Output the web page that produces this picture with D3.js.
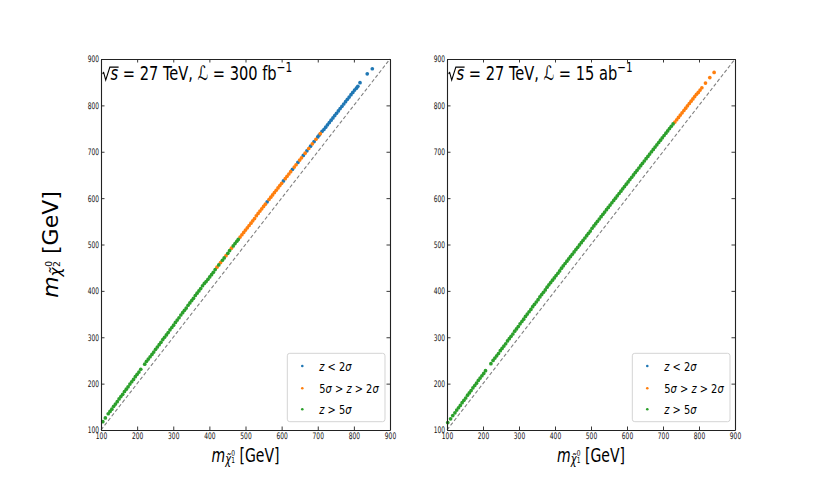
<!DOCTYPE html>
<html>
<head>
<meta charset="utf-8">
<script src="https://cdn.jsdelivr.net/npm/d3@7"></script>
<style>
  body { margin: 0; background: #fff; }
  svg { display: block; font-family: "DejaVu Sans", sans-serif; }
</style>
</head>
<body>
<svg id="chart" width="817" height="491"></svg>
<script>
// [m(chi1), m(chi2)] points, one array per significance class

// 27 TeV, 300 fb^-1
var leftBlue = [[560,592],[605,637],[630,662],[645,677],[660,692],[670,702],[680,712],[690,722],[700,732],[704,736],
  [712,744],[717,748],[722,753],[727,758],[732,763],[737,768],[742,773],[747,778],[752,783],[757,788],[762,793],
  [767,798],[772,803],[777,808],[782,813],[787,818],[792,823],[797,828],[802,833],[807,837],[811,841],
  [817,849],[837,868],[851,879]];
var leftOrange = [[421,451],[431,461],[446,476],[461,492],[485,516],[490,521],[495,526],[500,531],[505,536],[510,541],
  [515,546],[520,551],[525,556],[530,562],[535,567],[540,572],[545,577],[550,582],[555,587],[565,597],[570,602],
  [575,607],[580,612],[585,617],[590,622],[595,627],[600,632],[610,642],[615,647],[620,652],[625,657],[635,667],
  [640,672],[650,682],[655,687],[665,697],[675,707],[685,717],[695,727],[707,739]];
var leftGreen = [[105,118],[112,126],[120,135],[125,140],[130,145],[135,151],[140,156],[145,161],[150,167],[155,172],
  [160,177],[165,183],[170,188],[175,193],[180,199],[185,204],[190,209],[195,215],[200,220],[205,225],[210,231],
  [221,242],[226,248],[231,253],[236,258],[241,263],[246,268],[251,274],[256,279],[261,284],[266,289],[271,295],
  [276,300],[281,305],[286,310],[291,316],[296,321],[301,326],[306,332],[311,337],[316,342],[321,348],[326,353],
  [331,358],[336,363],[341,369],[346,374],[351,379],[356,384],[361,390],[366,395],[371,400],[376,405],[381,411],
  [386,416],[391,420],[396,425],[401,430],[406,435],[411,440],[416,446],[426,456],[436,466],[441,471],[451,481],
  [456,487],[466,497],[471,502],[476,507],[480,511]];

// 27 TeV, 15 ab^-1
var rightBlue = [];
var rightOrange = [[733,764],[738,769],[743,774],[748,779],[753,784],[758,789],[763,794],[768,799],[773,804],
  [778,809],[783,814],[788,819],[793,824],[798,828],[803,833],[808,838],[818,848],[830,860],[842,871]];
var rightGreen = [[102,116],[110,124],[116,131],[122,137],[127,143],[132,148],[137,153],[142,159],[147,164],
  [152,169],[157,175],[162,180],[167,185],[172,191],[177,196],[182,201],[187,207],[192,212],[197,217],[202,222],
  [207,228],[222,243],[228,250],[233,255],[238,260],[243,265],[248,271],[253,276],[258,281],[263,286],[268,292],
  [273,297],[278,302],[283,307],[288,313],[293,318],[298,323],[303,329],[308,334],[313,339],[318,345],[323,350],
  [328,355],[333,360],[338,366],[343,371],[348,376],[353,381],[358,387],[363,392],[368,397],[373,402],[378,408],
  [383,413],[388,418],[393,423],[398,428],[403,433],[408,438],[413,443],[418,449],[423,454],[428,459],[433,464],
  [438,469],[443,474],[448,479],[453,484],[458,489],[463,494],[468,499],[473,504],[478,509],[483,514],[488,519],
  [493,524],[498,529],[503,535],[508,540],[513,545],[518,550],[523,555],[528,560],[533,565],[538,570],[543,575],
  [548,580],[553,585],[558,590],[563,595],[568,600],[573,605],[578,610],[583,615],[588,620],[593,625],[598,630],
  [603,635],[608,640],[613,645],[618,650],[623,655],[628,660],[633,665],[638,670],[643,675],[648,680],[653,685],
  [658,690],[663,695],[668,700],[673,705],[678,710],[683,715],[688,720],[693,725],[698,730],[703,735],[708,740],
  [713,745],[718,750],[723,755],[728,760]];

var tickValues = [100, 200, 300, 400, 500, 600, 700, 800, 900];
var massDomain = [100, 900];
var seriesColors = ['#1f77b4', '#ff7f0e', '#2ca02c'];
// legend entries as [text, italic?] pieces
var legendLabels = [
  [['z', 1], [' < 2', 0], ['σ', 1]],
  [['5', 0], ['σ', 1], [' > ', 0], ['z', 1], [' > 2', 0], ['σ', 1]],
  [['z', 1], [' > 5', 0], ['σ', 1]]
];
var lumiValues = ['300', '15'];
var lumiUnits = ['fb', 'ab'];

var svg = d3.select('#chart');
var plotTop = 59, plotBottom = 430;
var panels = [
  { x0: 101, x1: 390, series: [leftBlue, leftOrange, leftGreen], ylabel: true },
  { x0: 447, x1: 735, series: [rightBlue, rightOrange, rightGreen], ylabel: false }
];

function massLabel(sel, idx, f) {
  sel.append('tspan').attr('font-style', 'italic').text('m');
  sel.append('tspan').attr('font-style', 'italic').attr('font-size', 0.7 * f).attr('dy', 0.12 * f).text('χ̃');
  sel.append('tspan').attr('font-size', 0.42 * f).attr('dx', 0.02 * f).attr('dy', -0.4 * f).text('0');
  sel.append('tspan').attr('font-size', 0.42 * f).attr('dx', -0.27 * f).attr('dy', 0.38 * f).text(idx);
  sel.append('tspan').attr('dy', -0.1 * f).text(' [GeV]');
}

panels.forEach(function(p, pi) {
  var x = d3.scaleLinear().domain(massDomain).range([p.x0, p.x1]);
  var y = d3.scaleLinear().domain(massDomain).range([plotBottom, plotTop]);
  var g = svg.append('g');

  // diagonal m2 = m1
  g.append('line')
    .attr('x1', x(massDomain[0])).attr('y1', y(massDomain[0]))
    .attr('x2', x(massDomain[1])).attr('y2', y(massDomain[1]))
    .attr('stroke', '#808080')
    .attr('stroke-width', 1.1)
    .attr('stroke-dasharray', '3.6,2.2');

  p.series.forEach(function(pts, si) {
    g.append('g').selectAll('circle')
      .data(pts)
      .join('circle')
      .attr('cx', function(d) { return x(d[0]); })
      .attr('cy', function(d) { return y(d[1]); })
      .attr('r', 1.85)
      .attr('fill', seriesColors[si]);
  });

  // axes: ticks pointing inward on all four sides
  var axes = [
    [d3.axisBottom(x), 'translate(0,' + plotBottom + ')', true],
    [d3.axisLeft(y), 'translate(' + p.x0 + ',0)', true],
    [d3.axisTop(x), 'translate(0,' + plotTop + ')', false],
    [d3.axisRight(y), 'translate(' + p.x1 + ',0)', false]
  ];
  axes.forEach(function(a) {
    var ax = a[0].tickValues(tickValues).tickSizeInner(-3.5).tickSizeOuter(0).tickPadding(3);
    if (!a[2]) ax.tickFormat('');
    var ag = g.append('g').attr('transform', a[1]).call(ax);
    ag.select('.domain').attr('stroke', '#222').attr('stroke-width', 1.1);
    ag.selectAll('.tick line').attr('stroke', '#222').attr('stroke-width', 0.9);
    ag.selectAll('.tick text')
      .attr('fill', '#111')
      .attr('font-size', 9)
      .attr('font-family', '"DejaVu Sans", sans-serif')
      .attr('transform', 'scale(0.66,1)');
  });

  // title inside the axes
  var f = 19.5;
  var tg = g.append('g').attr('transform', 'translate(' + (p.x0 + 1.5) + ',80) scale(0.75,1)');
  var tt = tg.append('text').attr('x', 0.55 * f).attr('font-size', f).attr('fill', '#000');
  tt.append('tspan').attr('font-style', 'italic').text('s');
  tt.append('tspan').text(' = 27 TeV, ');
  tt.append('tspan').attr('font-style', 'italic').text('ℒ');
  tt.append('tspan').text(' = ' + lumiValues[pi] + ' ' + lumiUnits[pi]);
  tt.append('tspan').attr('font-size', 0.72 * f).attr('dy', -0.42 * f).text('−1');
  var sAdv = tt.node().getSubStringLength(0, 1);
  tg.append('path')
    .attr('d', 'M0,' + (-0.33 * f) + 'L' + (0.08 * f) + ',' + (-0.38 * f) + 'L' + (0.22 * f) + ',0L' +
      (0.5 * f) + ',' + (-0.66 * f) + 'H' + (0.58 * f + sAdv))
    .attr('fill', 'none')
    .attr('stroke', '#000')
    .attr('stroke-width', 1.4);

  // x label
  var xl = g.append('text')
    .attr('transform', 'translate(' + ((p.x0 + p.x1) / 2) + ',461.5) scale(0.72,1)')
    .attr('text-anchor', 'middle')
    .attr('font-size', 19.5);
  massLabel(xl, '1', 19.5);

  if (p.ylabel) {
    var yl = g.append('text')
      .attr('transform', 'translate(58,' + ((plotTop + plotBottom) / 2) + ') rotate(-90)')
      .attr('text-anchor', 'middle')
      .attr('font-size', 22);
    massLabel(yl, '2', 22);
  }

  // legend
  var bx = p.x1 - 102.7, by = 353.3;
  var lg = g.append('g').attr('transform', 'translate(' + bx + ',' + by + ')');
  lg.append('rect')
    .attr('width', 97.7).attr('height', 68.4).attr('rx', 2.5)
    .attr('fill', '#fff').attr('fill-opacity', 0.8)
    .attr('stroke', '#d4d4d4').attr('stroke-width', 1);
  var rowY = [12.7, 35, 56];
  legendLabels.forEach(function(parts, i) {
    lg.append('circle').attr('cx', 15).attr('cy', rowY[i]).attr('r', 1.3).attr('fill', seriesColors[i]);
    var lt = lg.append('text')
      .attr('transform', 'translate(32,' + rowY[i] + ') scale(0.76,1)')
      .attr('dy', '0.36em')
      .attr('font-size', 13);
    parts.forEach(function(pt) {
      lt.append('tspan').attr('font-style', pt[1] ? 'italic' : 'normal').text(pt[0]);
    });
  });
});
</script>
</body>
</html>
